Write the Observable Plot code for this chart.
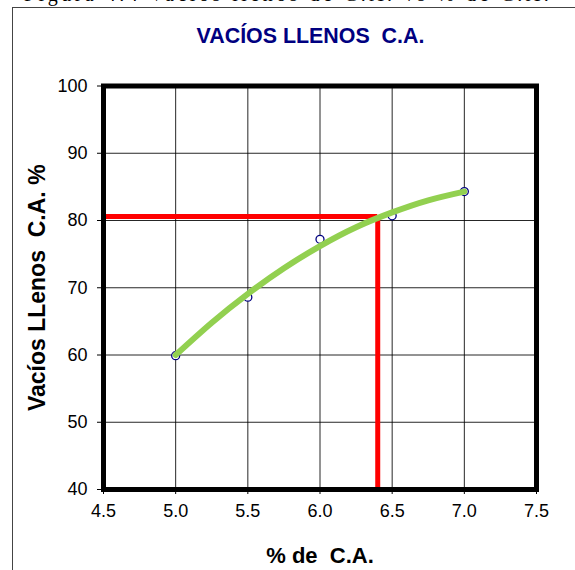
<!DOCTYPE html>
<html>
<head>
<meta charset="utf-8">
<script src="https://cdn.jsdelivr.net/npm/d3@7"></script>
<script src="https://cdn.jsdelivr.net/npm/@observablehq/plot@0.6"></script>
<style>
  html, body { margin: 0; padding: 0; background: #fff; }
  body { width: 575px; height: 570px; position: relative; overflow: hidden; font-family: "Liberation Sans", Arial, sans-serif; }
  #caption { position: absolute; left: 24px; top: -17px; font-family: "Liberation Serif", "Times New Roman", serif; font-size: 20px; white-space: nowrap; letter-spacing: 3.5px; color: #000; }
  #box { position: absolute; left: 12px; top: 7px; width: 700px; height: 700px; border: 1.5px solid #444; box-sizing: border-box; background: #fff; }
  #title { position: absolute; left: 0; width: 621px; top: 24px; text-align: center; color: #000080; font-weight: bold; font-size: 21.4px; white-space: pre; }
  #chart { position: absolute; left: 0; top: 0; }
</style>
</head>
<body>
<div id="caption">Figura 4.4 Vacíos llenos de C.A. vs % de C.A.</div>
<div id="box"></div>
<div id="title">VACÍOS LLENOS  C.A.</div>
<div id="chart"></div>
<script>
// Measured points (% C.A. vs Vacíos llenos C.A. %)
const pctCA = [5.0, 5.5, 6.0, 6.5, 7.0];
const vllenos = [59.9, 68.6, 77.2, 80.7, 84.3];

// Trend curve
const curveX = [5.0, 5.25, 5.5, 5.75, 6.0, 6.25, 6.5, 6.75, 7.0];
const curveY = [60.0, 64.8, 69.1, 72.9, 76.2, 79.0, 81.2, 83.0, 84.3];

// Design value (red guide lines)
const designX = [6.4];
const designY = [80.6];

const xTicks = [4.5, 5.0, 5.5, 6.0, 6.5, 7.0, 7.5];
const yTicks = [40, 50, 60, 70, 80, 90, 100];

const xLabel = "% de  C.A.";
const yLabel = "Vacíos LLenos  C.A. %";

const points = pctCA.map((x, i) => ({x, y: vllenos[i]}));
const curve = curveX.map((x, i) => ({x, y: curveY[i]}));
const design = designX.map((x, i) => ({x, y: designY[i]}));

const chart = Plot.plot({
  width: 575,
  height: 570,
  marginLeft: 103,
  marginRight: 39,
  marginTop: 85.5,
  marginBottom: 81,
  style: {fontFamily: "'Liberation Sans', Arial, sans-serif", fontSize: "18px", background: "transparent", color: "#000"},
  x: {domain: [4.5, 7.5]},
  y: {domain: [40, 100]},
  marks: [
    Plot.gridX(xTicks, {stroke: "#000", strokeOpacity: 0.85, strokeWidth: 1}),
    Plot.gridY(yTicks, {stroke: "#000", strokeOpacity: 0.85, strokeWidth: 1}),
    Plot.axisX({ticks: xTicks, tickFormat: d3.format(".1f"), tickSize: 5, tickPadding: 10, fontSize: 18, label: null}),
    Plot.axisY({ticks: yTicks, tickSize: 6, tickPadding: 10, fontSize: 18, label: null}),
    Plot.ruleY(design, {y: "y", x1: 4.5, x2: "x", stroke: "#ff0000", strokeWidth: 5}),
    Plot.ruleX(design, {x: "x", y1: 40, y2: "y", stroke: "#ff0000", strokeWidth: 5}),
    Plot.dot(points, {x: "x", y: "y", r: 4, stroke: "#000080", strokeWidth: 1.3, fill: "#fff"}),
    Plot.line(curve, {x: "x", y: "y", curve: "natural", stroke: "#92d050", strokeWidth: 6}),
    Plot.frame({stroke: "#000", strokeWidth: 5}),
    Plot.text([xLabel], {frameAnchor: "bottom", dy: 66, text: d => d, textAnchor: "middle", lineAnchor: "middle", fontWeight: "bold", fontSize: 22}),
    Plot.text([yLabel], {frameAnchor: "left", dx: -66, rotate: -90, text: d => d, textAnchor: "middle", lineAnchor: "middle", fontWeight: "bold", fontSize: 23})
  ]
});
document.getElementById("chart").appendChild(chart);
</script>
</body>
</html>
